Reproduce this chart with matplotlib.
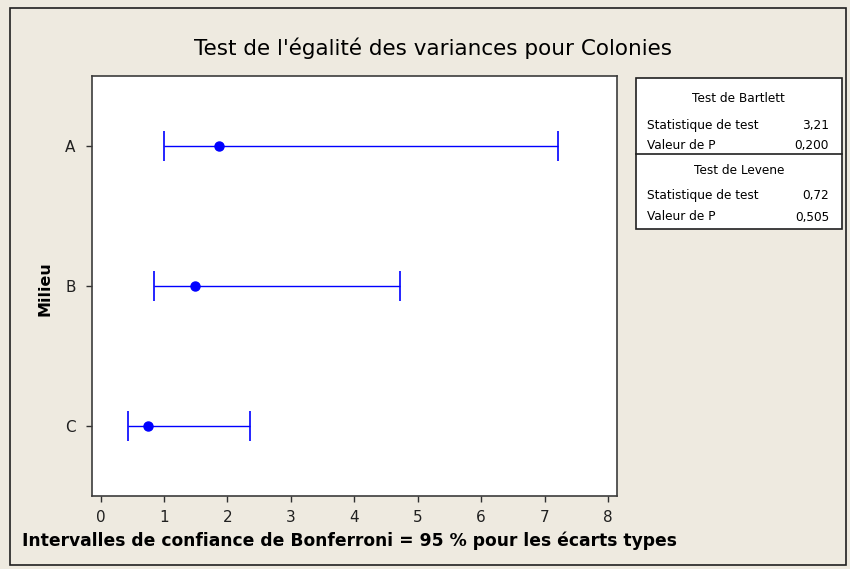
import matplotlib
matplotlib.use('Agg')
import matplotlib.pyplot as plt
import matplotlib.patches as patches

# Data
milieux = ['A', 'B', 'C']
ecarts_types = [1.87, 1.49, 0.75]      # point estimate (sigma)
bornes_inf = [1.00, 0.84, 0.43]        # lower Bonferroni bound
bornes_sup = [7.21, 4.72, 2.36]        # upper Bonferroni bound
x_ticks = [0, 1, 2, 3, 4, 5, 6, 7, 8]

bartlett_stat, bartlett_p = 3.21, 0.200
levene_stat, levene_p = 0.72, 0.505

W, H = 850, 569
BG = '#EEEAE0'
EDGE = '#3c3c3c'


def fx(px):
    return px / W


def fy(py):
    return 1 - py / H


def fr(v, nd):
    return f'{v:.{nd}f}'.replace('.', ',')


fig = plt.figure(figsize=(W / 100, H / 100), dpi=100, facecolor=BG)

# Outer frame
fig.patches.append(patches.Rectangle((fx(10), fy(565)), fx(836), 557 / H,
                                     transform=fig.transFigure, fill=False,
                                     edgecolor='#202020', linewidth=1.2))

# Main plot box
left, right, top, bottom = 92.3, 617, 76, 496
ax = fig.add_axes([fx(left), fy(bottom), fx(right - left), (bottom - top) / H])
ax.set_facecolor('white')

ypos = list(range(len(milieux), 0, -1))
err_lo = [c - lo for c, lo in zip(ecarts_types, bornes_inf)]
err_hi = [hi - c for c, hi in zip(ecarts_types, bornes_sup)]
ax.errorbar(ecarts_types, ypos, xerr=[err_lo, err_hi], fmt='o', color='#0000FF',
            ecolor='#0000FF', elinewidth=1.0, capsize=11, capthick=1.2,
            markersize=6.5)

ax.set_xlim(-0.13, 8.14)
ax.set_ylim(0.5, 3.5)
ax.set_xticks(x_ticks)
ax.set_xticklabels([str(t) for t in x_ticks])
ax.set_yticks(ypos)
ax.set_yticklabels(milieux)
ax.tick_params(axis='both', direction='out', length=4, width=1, color='#303030',
               labelcolor='#202020', labelsize=11)
ax.tick_params(axis='x', pad=6)
ax.tick_params(axis='y', pad=8)
for sp in ax.spines.values():
    sp.set_color(EDGE)
    sp.set_linewidth(1.2)

# Titles
fig.text(fx(433), fy(48), "Test de l'égalité des variances pour Colonies",
         ha='center', va='center', fontsize=15.5, color='black')
fig.text(fx(22), fy(541), 'Intervalles de confiance de Bonferroni = 95 % pour les écarts types',
         ha='left', va='center', fontsize=12.3, fontweight='bold', color='black')
fig.text(fx(45), fy(289), 'Milieu', ha='center', va='center', rotation=90,
         fontsize=11.5, fontweight='bold', color='black')

# Test results table
bx0, bx1, by0, by1, bmid = 635.7, 841.7, 77.7, 229, 154.3
fig.patches.append(patches.Rectangle((fx(bx0), fy(by1)), fx(bx1 - bx0), (by1 - by0) / H,
                                     transform=fig.transFigure, facecolor='white',
                                     edgecolor='#202020', linewidth=1.2))
fig.lines.append(plt.Line2D([fx(bx0), fx(bx1)], [fy(bmid), fy(bmid)],
                            transform=fig.transFigure, color='#202020', linewidth=1.2))

fs = 8.7
cx = (bx0 + bx1) / 2
rows = [
    (99, 'Test de Bartlett', None),
    (125.7, 'Statistique de test', fr(bartlett_stat, 2)),
    (146, 'Valeur de P', fr(bartlett_p, 3)),
    (171, 'Test de Levene', None),
    (195.7, 'Statistique de test', fr(levene_stat, 2)),
    (217, 'Valeur de P', fr(levene_p, 3)),
]
for y, label, val in rows:
    if val is None:
        fig.text(fx(cx), fy(y), label, ha='center', va='center', fontsize=fs)
    else:
        fig.text(fx(647.3), fy(y), label, ha='left', va='center', fontsize=fs)
        fig.text(fx(829), fy(y), val, ha='right', va='center', fontsize=fs)

fig.savefig('out.png', dpi=100, facecolor=BG)
